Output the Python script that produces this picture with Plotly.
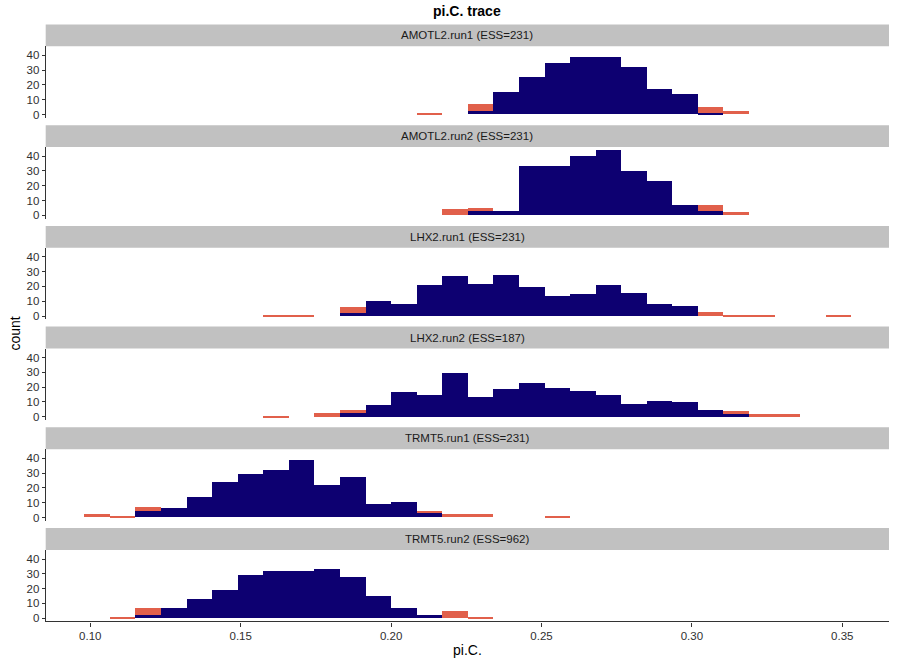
import plotly.graph_objects as go

# ---------------- data ----------------
bin_start = 0.0979
bin_width = 0.0085
n_bins = 30

facet_labels = [
    "AMOTL2.run1 (ESS=231)",
    "AMOTL2.run2 (ESS=231)",
    "LHX2.run1 (ESS=231)",
    "LHX2.run2 (ESS=187)",
    "TRMT5.run1 (ESS=231)",
    "TRMT5.run2 (ESS=962)",
]

# counts per bin (30 bins), navy group (bottom) and orange group (top)
amotl2_run1_navy = [0,0,0,0,0, 0,0,0,0,0, 0,0,0,0,0, 2,15,25,35,39, 39,32,17,14,1, 0,0,0,0,0]
amotl2_run1_orange = [0,0,0,0,0, 0,0,0,0,0, 0,0,0,1,0, 5,0,0,0,0, 0,0,0,0,4, 2,0,0,0,0]

amotl2_run2_navy = [0,0,0,0,0, 0,0,0,0,0, 0,0,0,0,0, 3,3,33,33,40, 44,30,23,7,3, 0,0,0,0,0]
amotl2_run2_orange = [0,0,0,0,0, 0,0,0,0,0, 0,0,0,0,4, 2,0,0,0,0, 0,0,0,0,4, 2,0,0,0,0]

lhx2_run1_navy = [0,0,0,0,0, 0,0,0,0,0, 2,10,8,21,27, 22,28,20,14,15, 21,16,8,7,0, 0,0,0,0,0]
lhx2_run1_orange = [0,0,0,0,0, 0,0,1,1,0, 4,0,0,0,0, 0,0,0,0,0, 0,0,0,0,3, 1,1,0,0,1]

lhx2_run2_navy = [0,0,0,0,0, 0,0,0,0,0, 3,8,17,15,30, 14,19,23,20,18, 15,9,11,10,5, 2,0,0,0,0]
lhx2_run2_orange = [0,0,0,0,0, 0,0,1,0,3, 2,0,0,0,0, 0,0,0,0,0, 0,0,0,0,0, 2,2,2,0,0]

trmt5_run1_navy = [0,0,4,6,14, 24,29,32,39,22, 27,9,10,3,0, 0,0,0,0,0, 0,0,0,0,0, 0,0,0,0,0]
trmt5_run1_orange = [2,1,3,0,0, 0,0,0,0,0, 0,0,0,1,2, 2,0,0,1,0, 0,0,0,0,0, 0,0,0,0,0]

trmt5_run2_navy = [0,0,2,7,13, 19,29,32,32,33, 28,15,7,2,0, 0,0,0,0,0, 0,0,0,0,0, 0,0,0,0,0]
trmt5_run2_orange = [0,1,5,0,0, 0,0,0,0,0, 0,0,0,0,5, 1,0,0,0,0, 0,0,0,0,0, 0,0,0,0,0]

navy_counts = [amotl2_run1_navy, amotl2_run2_navy, lhx2_run1_navy,
               lhx2_run2_navy, trmt5_run1_navy, trmt5_run2_navy]
orange_counts = [amotl2_run1_orange, amotl2_run2_orange, lhx2_run1_orange,
                 lhx2_run2_orange, trmt5_run1_orange, trmt5_run2_orange]

x_ticks = [0.10, 0.15, 0.20, 0.25, 0.30, 0.35]
y_ticks = [0, 10, 20, 30, 40]

# ---------------- layout geometry (pixels) ----------------
W, H = 897, 665
x_left, x_right = 45.7, 889.0
first_top = 46.5
pitch = 101.2
panel_h = 71.8
strip_h = 22.0

NAVY = "#0D0071"
ORANGE = "#E1604B"
STRIP = "#C1C1C1"
AXIS = "#333333"
FONT = "Liberation Sans, Arial, Helvetica, sans-serif"

centers = [bin_start + bin_width * (i + 0.5) for i in range(n_bins)]
x_range = [0.08517, 0.36553]
y_range = [-2.2, 46.2]

fig = go.Figure()
shapes = []
annotations = []

for k, label in enumerate(facet_labels):
    ax = "" if k == 0 else str(k + 1)
    top = first_top + pitch * k
    bottom = top + panel_h
    for counts, color, name in ((navy_counts[k], NAVY, "navy"),
                                (orange_counts[k], ORANGE, "orange")):
        fig.add_trace(go.Bar(
            x=centers, y=counts, width=bin_width,
            marker=dict(color=color, line=dict(width=0)),
            xaxis="x" + ax, yaxis="y" + ax, showlegend=False, name=name,
        ))
    is_bottom = k == len(facet_labels) - 1
    fig.layout["xaxis" + ax] = dict(
        domain=[x_left / W, x_right / W],
        anchor="y" + ax,
        range=x_range,
        showgrid=False, zeroline=False,
        showline=is_bottom, linecolor=AXIS, linewidth=1.2,
        ticks="outside" if is_bottom else "", ticklen=4, tickcolor=AXIS,
        tickvals=x_ticks if is_bottom else [],
        ticktext=["%.2f" % v for v in x_ticks] if is_bottom else [],
        showticklabels=is_bottom,
        tickfont=dict(size=11.5, color="#303030", family=FONT),
        fixedrange=True,
    )
    fig.layout["yaxis" + ax] = dict(
        domain=[1 - bottom / H, 1 - top / H],
        anchor="x" + ax,
        range=y_range,
        showgrid=False, zeroline=False,
        showline=True, linecolor=AXIS, linewidth=1.2,
        ticks="outside", ticklen=3, tickcolor=AXIS,
        tickvals=y_ticks,
        tickfont=dict(size=11.5, color="#303030", family=FONT),
        fixedrange=True,
    )
    shapes.append(dict(
        type="rect", xref="paper", yref="paper",
        x0=x_left / W, x1=x_right / W,
        y0=1 - top / H, y1=1 - (top - strip_h) / H,
        fillcolor=STRIP, line=dict(width=0), layer="below",
    ))
    annotations.append(dict(
        text=label, xref="paper", yref="paper",
        x=(x_left + x_right) / 2 / W, y=1 - (top - strip_h / 2) / H,
        xanchor="center", yanchor="middle", showarrow=False,
        font=dict(size=11.5, color="#1A1A1A", family=FONT),
    ))

annotations.append(dict(
    text="<b>pi.C. trace</b>", xref="paper", yref="paper",
    x=(x_left + x_right) / 2 / W, y=1 - 11 / H,
    xanchor="center", yanchor="middle", showarrow=False,
    font=dict(size=14, color="black", family=FONT),
))
annotations.append(dict(
    text="pi.C.", xref="paper", yref="paper",
    x=(x_left + x_right) / 2 / W, y=1 - 653 / H,
    xanchor="center", yanchor="middle", showarrow=False,
    font=dict(size=14, color="black", family=FONT),
))
annotations.append(dict(
    text="count", xref="paper", yref="paper",
    x=15 / W, y=1 - 335 / H, textangle=-90,
    xanchor="center", yanchor="middle", showarrow=False,
    font=dict(size=14, color="black", family=FONT),
))

fig.update_layout(
    width=W, height=H,
    margin=dict(l=0, r=0, t=0, b=0),
    paper_bgcolor="white", plot_bgcolor="white",
    barmode="stack", bargap=0,
    shapes=shapes, annotations=annotations,
    font=dict(family=FONT),
)

fig.write_html(
    "out.html",
    config={"displayModeBar": False},
    post_script="document.body.style.margin='0px';document.body.style.overflow='hidden';",
)
